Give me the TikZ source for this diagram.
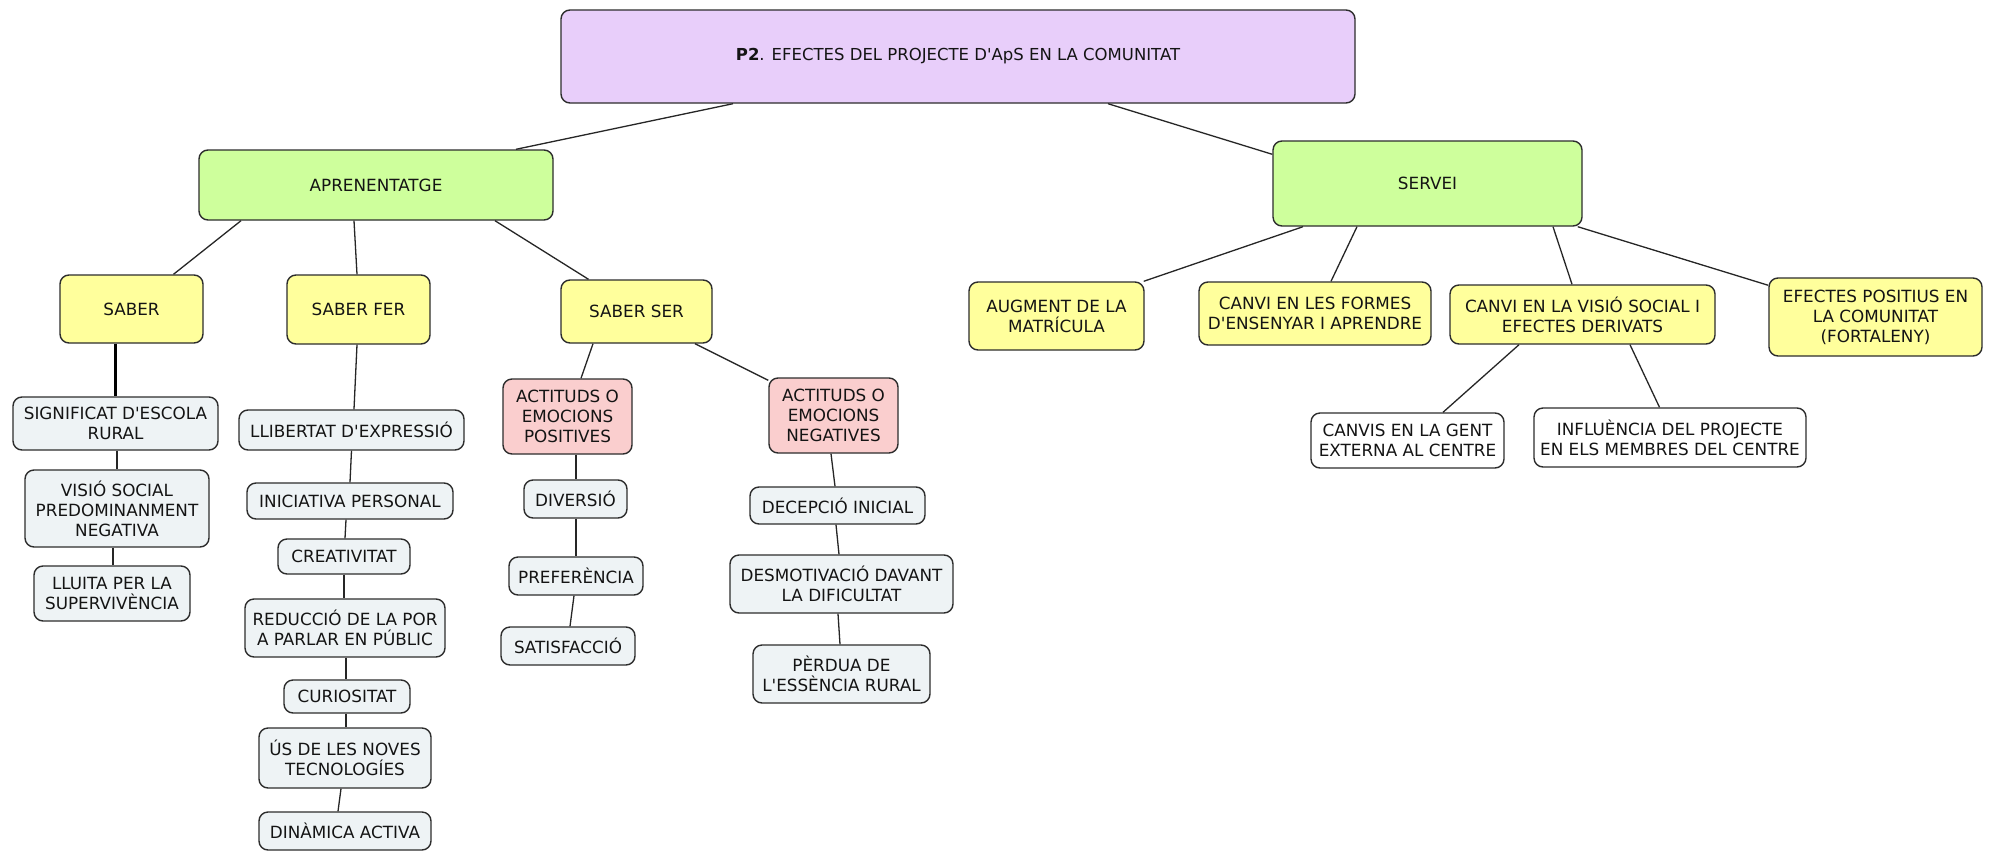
\documentclass[tikz,border=0pt]{standalone}
\usepackage{fontspec}
\newfontfamily\vfont{DejaVu Sans}
\definecolor{bordercol}{RGB}{45,45,45}
\definecolor{txtcol}{RGB}{20,20,20}
\definecolor{rootfill}{RGB}{232,206,250}
\definecolor{greenfill}{RGB}{206,255,156}
\definecolor{yellowfill}{RGB}{255,255,156}
\definecolor{pinkfill}{RGB}{250,206,206}
\definecolor{grayfill}{RGB}{238,243,245}
\newcommand\mybox[7]{\node[#1, minimum width={(#5-#3)*1pt}, minimum height={(#6-#4)*1pt}] (#2) at ({(#3+#5)/2},{(#4+#6)/2}) {#7};}
\tikzset{
  box/.style={draw=bordercol, line width=1.4pt, rounded corners=9pt, align=center, inner sep=0pt, text=txtcol, font=\vfont\fontsize{16.8}{20}\selectfont},
  lowbox/.style={box, fill=grayfill},
  rootbox/.style={box, fill=rootfill, font=\vfont\fontsize{16.5}{20}\selectfont},
  greenbox/.style={box, fill=greenfill},
  yellowbox/.style={box, fill=yellowfill},
  pinkbox/.style={box, fill=pinkfill},
  whitebox/.style={box, fill=white},
  con/.style={line width=1.3pt, draw=black!85},
  thickcon/.style={line width=2.6pt, draw=black}
}
\begin{document}
\begin{tikzpicture}[x=1pt,y=-1pt]
\path[use as bounding box, fill=white] (0,0) rectangle (1990,852);
% top levels
\mybox{rootbox}{root}{561}{10}{1355}{103}{\textbf{P2}. EFECTES DEL PROJECTE D'ApS EN LA COMUNITAT}
\mybox{greenbox}{apr}{199}{150}{553}{220}{APRENENTATGE}
\mybox{greenbox}{serv}{1273}{141}{1582}{226}{SERVEI}
% aprenentatge branch
\mybox{yellowbox}{saber}{60}{275}{203}{343}{SABER}
\mybox{yellowbox}{saberfer}{287}{275}{430}{344}{SABER FER}
\mybox{yellowbox}{saberser}{561}{280}{712}{343}{SABER SER}
\mybox{pinkbox}{pos}{503}{379}{632}{454}{ACTITUDS O\\EMOCIONS\\POSITIVES}
\mybox{pinkbox}{neg}{769}{378}{898}{453}{ACTITUDS O\\EMOCIONS\\NEGATIVES}
\mybox{lowbox}{signif}{13}{397}{218}{450}{SIGNIFICAT D'ESCOLA\\RURAL}
\mybox{lowbox}{visio}{25}{470}{209}{547}{VISIÓ SOCIAL\\PREDOMINANMENT\\NEGATIVA}
\mybox{lowbox}{lluita}{34}{566}{190}{621}{LLUITA PER LA\\SUPERVIVÈNCIA}
\mybox{lowbox}{llib}{239}{410}{464}{450}{LLIBERTAT D'EXPRESSIÓ}
\mybox{lowbox}{inic}{247}{483}{453}{519}{INICIATIVA PERSONAL}
\mybox{lowbox}{creat}{278}{539}{410}{574}{CREATIVITAT}
\mybox{lowbox}{redu}{245}{599}{445}{657}{REDUCCIÓ DE LA POR\\A PARLAR EN PÚBLIC}
\mybox{lowbox}{curi}{284}{680}{410}{713}{CURIOSITAT}
\mybox{lowbox}{us}{259}{728}{431}{788}{ÚS DE LES NOVES\\TECNOLOGÍES}
\mybox{lowbox}{dina}{259}{812}{431}{850}{DINÀMICA ACTIVA}
\mybox{lowbox}{div}{524}{480}{627}{518}{DIVERSIÓ}
\mybox{lowbox}{pref}{509}{557}{643}{595}{PREFERÈNCIA}
\mybox{lowbox}{sat}{501}{627}{635}{665}{SATISFACCIÓ}
\mybox{lowbox}{dec}{750}{487}{925}{524}{DECEPCIÓ INICIAL}
\mybox{lowbox}{desm}{730}{555}{953}{613}{DESMOTIVACIÓ DAVANT\\LA DIFICULTAT}
\mybox{lowbox}{perd}{753}{645}{930}{703}{PÈRDUA DE\\L'ESSÈNCIA RURAL}
% servei branch
\mybox{yellowbox}{aug}{969}{282}{1144}{350}{AUGMENT DE LA\\MATRÍCULA}
\mybox{yellowbox}{formes}{1199}{282}{1431}{345}{CANVI EN LES FORMES\\D'ENSENYAR I APRENDRE}
\mybox{yellowbox}{cvisio}{1450}{285}{1715}{344}{CANVI EN LA VISIÓ SOCIAL I\\EFECTES DERIVATS}
\mybox{yellowbox}{efec}{1769}{278}{1982}{356}{EFECTES POSITIUS EN\\LA COMUNITAT\\(FORTALENY)}
\mybox{whitebox}{gent}{1311}{413}{1504}{468}{CANVIS EN LA GENT\\EXTERNA AL CENTRE}
\mybox{whitebox}{infl}{1534}{408}{1806}{467}{INFLUÈNCIA DEL PROJECTE\\EN ELS MEMBRES DEL CENTRE}
% connectors
\draw[con] ([xshift=-225pt]root.south) -- ([xshift=140pt]apr.north);
\draw[con] ([xshift=150pt]root.south) -- ([yshift=-14pt]serv.north west);
\draw[con] ([xshift=-135pt]apr.south) -- ([xshift=42pt]saber.north);
\draw[con] ([xshift=-22pt]apr.south) -- ([xshift=-1.5pt]saberfer.north);
\draw[con] ([xshift=119pt]apr.south) -- ([xshift=-48pt]saberser.north);
\draw[thickcon] ([xshift=-16pt]saber.south) -- (signif.north);
\draw[con] ([xshift=1.5pt]signif.south) -- (visio.north);
\draw[con] ([xshift=-4pt]visio.south) -- ([xshift=1pt]lluita.north);
\draw[con] ([xshift=-1.5pt]saberfer.south) -- ([xshift=2.5pt]llib.north);
\draw[con] (llib.south) -- (inic.north);
\draw[con] ([xshift=-4pt]inic.south) -- ([xshift=1pt]creat.north);
\draw[con] (creat.south) -- (creat.south |- redu.north);
\draw[con] ([xshift=1pt]redu.south) -- ([xshift=-1pt]curi.north);
\draw[con] ([xshift=-1pt]curi.south) -- ([xshift=1pt]us.north);
\draw[con] ([xshift=-4pt]us.south) -- ([xshift=-7pt]dina.north);
\draw[con] ([xshift=-43.5pt]saberser.south) -- ([xshift=13.5pt]pos.north);
\draw[con] ([xshift=58.5pt]saberser.south) -- ([yshift=-3pt]neg.north west);
\draw[con] ([xshift=8.5pt]pos.south) -- ([xshift=0.5pt]div.north);
\draw[con] ([xshift=0.5pt]div.south) -- ([xshift=0pt]pref.north);
\draw[con] ([xshift=-2pt]pref.south) -- ([xshift=2pt]sat.north);
\draw[con] ([xshift=-2.5pt]neg.south) -- ([xshift=-2.5pt]dec.north);
\draw[con] ([xshift=-1.5pt]dec.south) -- ([xshift=-2.5pt]desm.north);
\draw[con] ([xshift=-3.5pt]desm.south) -- ([xshift=-1.5pt]perd.north);
\draw[con] ([xshift=-124.5pt]serv.south) -- ([xshift=-1pt]aug.north east);
\draw[con] ([xshift=-70.5pt]serv.south) -- ([xshift=16pt]formes.north);
\draw[con] ([xshift=125.5pt]serv.south) -- ([xshift=-10.5pt]cvisio.north);
\draw[con] ([xshift=-5pt]serv.south east) -- ([yshift=-8pt]efec.north west);
\draw[con] ([xshift=-63.5pt]cvisio.south) -- ([xshift=35.5pt]gent.north);
\draw[con] ([xshift=47.5pt]cvisio.south) -- ([xshift=-10.5pt]infl.north);
\end{tikzpicture}
\end{document}
